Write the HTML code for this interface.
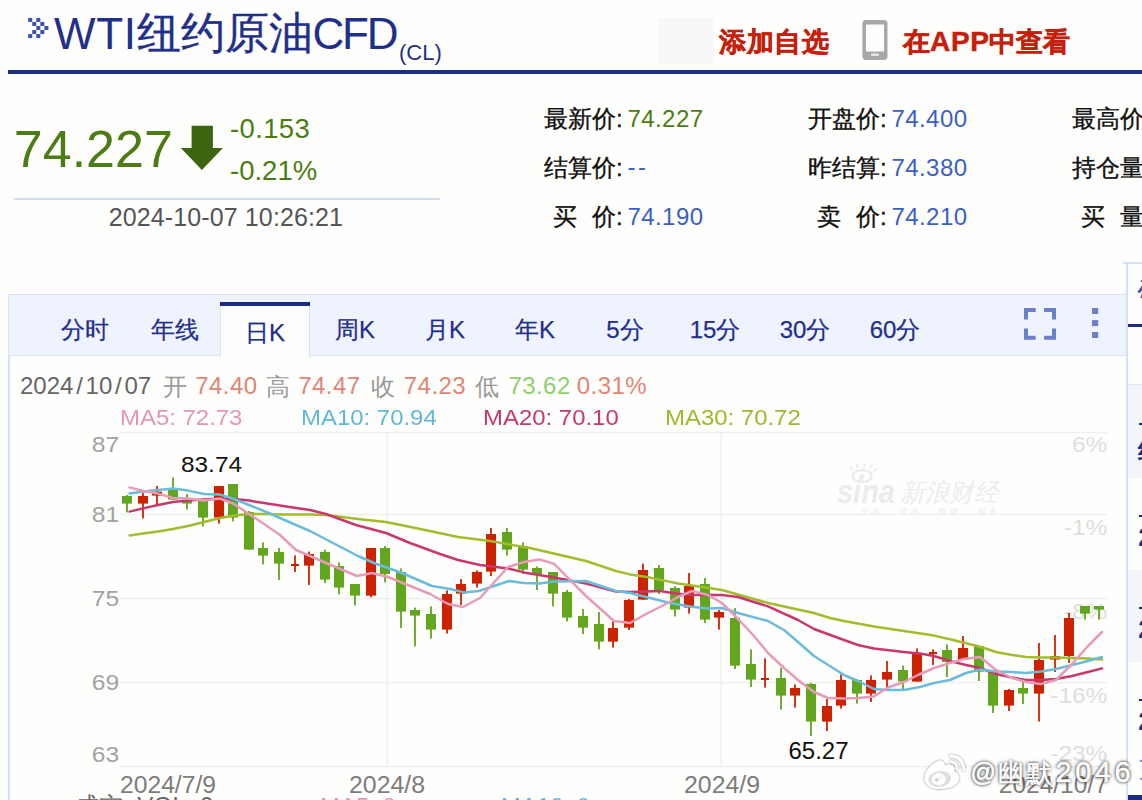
<!DOCTYPE html>
<html lang="zh">
<head>
<meta charset="utf-8">
<title>WTI纽约原油CFD</title>
<style>
html,body{margin:0;padding:0}
body{width:1142px;height:800px;overflow:hidden;position:relative;background:#fefefc;font-family:"Liberation Sans",sans-serif;color:#111}
.a{position:absolute;white-space:nowrap;line-height:1}
.navy{color:#1f2f8c}
.lab{font-size:24px;color:#111;-webkit-text-stroke:0.35px #111}
.num{font-size:24px;letter-spacing:0.45px;color:#3b60c4;margin-left:-0.6px;margin-top:-0.4px}
.grn{color:#4b7d14}
.tab{-webkit-text-stroke:0.25px #1f2f8c;font-size:24px;color:#1f2f8c;text-align:center;width:90px;top:318px}
.red{color:#c5200b;font-weight:bold;font-size:27.3px;-webkit-text-stroke:0.45px #c5200b}
svg{position:absolute;left:0;top:0}
svg text{font-family:"Liberation Sans",sans-serif}
</style>
</head>
<body>

<!-- header -->
<svg width="60" height="60" viewBox="0 0 60 60" style="left:0;top:0"><g fill="#3f54aa"><rect x="28.2" y="17.9" width="4.04" height="4.04"/><rect x="36.28" y="17.9" width="4.04" height="4.04"/><rect x="32.24" y="21.94" width="4.04" height="4.04"/><rect x="40.32" y="21.94" width="4.04" height="4.04"/><rect x="36.28" y="25.98" width="4.04" height="4.04"/><rect x="44.36" y="25.98" width="4.04" height="4.04"/><rect x="32.24" y="30.02" width="4.04" height="4.04"/><rect x="40.32" y="30.02" width="4.04" height="4.04"/><rect x="28.2" y="34.06" width="4.04" height="4.04"/><rect x="36.28" y="34.06" width="4.04" height="4.04"/></g></svg>
<div class="a navy" id="t1" style="left:54px;top:11.8px;font-size:44px;letter-spacing:0.7px">WTI</div>
<div class="a navy" id="t2" style="left:136.6px;top:11.3px;font-size:44px;-webkit-text-stroke:0.35px #1f2f8c">纽约原油</div>
<div class="a navy" id="t3" style="left:312.6px;top:11.8px;font-size:44px;letter-spacing:-2.3px">CFD</div>
<div class="a navy" id="cl" style="left:399px;top:41.9px;font-size:22px;">(CL)</div>
<div class="a" style="left:8px;top:69.5px;width:1134px;height:4.5px;background:#1c2b85"></div>

<div class="a" style="left:658px;top:18px;width:56px;height:46px;background:#f8f8f9"></div>
<div class="a red" id="add" style="left:719.2px;top:28.2px;letter-spacing:0.45px">添加自选</div>
<svg width="40" height="50" viewBox="855 15 40 50" style="left:855px;top:15px">
  <rect x="862.4" y="20" width="25.1" height="39.9" rx="3.6" fill="#a8a8a8"/>
  <rect x="866" y="24.4" width="18" height="27" rx="0.6" fill="#fefefc"/>
  <rect x="871" y="53.6" width="8" height="2.5" rx="1.2" fill="#e6e6e6"/>
</svg>
<div class="a red" id="app" style="left:902.6px;top:28.2px;">在<span style="letter-spacing:0.6px;font-size:28px;margin-left:0.5px">APP</span>中查看</div>

<!-- quote -->
<div class="a grn" id="big" style="left:13.8px;top:123px;font-size:52px;">74.227</div>
<svg width="60" height="60" viewBox="0 0 60 60" style="left:170px;top:115px">
  <path d="M21.6 10.8 H42.9 V33 H52.9 L31.9 55 L10.8 33 H21.6 Z" fill="#3c6512"/>
</svg>
<div class="a grn" id="chg1" style="left:230px;top:114.6px;font-size:27.5px;letter-spacing:0.35px">-0.153</div>
<div class="a grn" id="chg2" style="left:230px;top:156.7px;font-size:27.5px;">-0.21%</div>
<div class="a" style="left:14px;top:197.8px;width:426px;height:2px;background:#d6deec"></div>
<div class="a" id="ts" style="left:108.7px;top:205.2px;font-size:25px;color:#555;letter-spacing:0.12px">2024-10-07 10:26:21</div>

<!-- stats -->
<div class="a lab" id="s11" style="left:544px;top:107px">最新价:</div><div class="a num grn" id="n11" style="left:628px;top:107.5px">74.227</div>
<div class="a lab" id="s12" style="left:544px;top:156px">结算价:</div><div class="a num" id="n12" style="left:628px;top:155.2px;letter-spacing:2.6px">--</div>
<div class="a lab" id="s13" style="left:553px;top:205px">买<span style="display:inline-block;width:15px"></span>价:</div><div class="a num" id="n13" style="left:628px;top:205.5px">74.190</div>

<div class="a lab" id="s21" style="left:808px;top:107px">开盘价:</div><div class="a num" id="n21" style="left:892px;top:107.5px">74.400</div>
<div class="a lab" id="s22" style="left:808px;top:156px">昨结算:</div><div class="a num" id="n22" style="left:892px;top:156.5px">74.380</div>
<div class="a lab" id="s23" style="left:817px;top:205px">卖<span style="display:inline-block;width:15px"></span>价:</div><div class="a num" id="n23" style="left:892px;top:205.5px">74.210</div>

<div class="a lab" id="s31" style="left:1072px;top:107px">最高价:</div>
<div class="a lab" id="s32" style="left:1072px;top:156px">持仓量:</div>
<div class="a lab" id="s33" style="left:1081px;top:205px">买<span style="display:inline-block;width:15px"></span>量:</div>

<!-- chart panel -->
<div class="a" style="left:8.4px;top:294.3px;width:1118px;height:62px;background:#eff3fe;border:1.5px solid #dbe2f4;border-right:none;box-sizing:border-box"></div>
<div class="a" style="left:8.4px;top:356px;width:1.6px;height:444px;background:#d3e1f4"></div>
<div class="a" style="left:220.4px;top:302px;width:90px;height:56px;background:#fefefc;border-left:1.2px solid #dbe2f4;border-right:1.2px solid #dbe2f4;box-sizing:border-box"></div>
<div class="a" style="left:220.4px;top:302px;width:90px;height:4px;background:#1c2b85"></div>
<div class="a tab" style="left:40px">分时</div>
<div class="a tab" style="left:130px">年线</div>
<div class="a tab" style="left:220px;top:320.5px">日K</div>
<div class="a tab" style="left:310px">周K</div>
<div class="a tab" style="left:400px">月K</div>
<div class="a tab" style="left:490px">年K</div>
<div class="a tab" style="left:580px">5分</div>
<div class="a tab" style="left:670px">15分</div>
<div class="a tab" style="left:760px">30分</div>
<div class="a tab" style="left:850px">60分</div>
<svg width="90" height="40" viewBox="1020 304 90 40" style="left:1020px;top:304px">
  <g fill="none" stroke="#6c80c8" stroke-width="4">
    <path d="M1026 319.6 V310 H1035.7"/><path d="M1044.1 310 H1054 V319.6"/>
    <path d="M1026 328.4 V337.7 H1035.7"/><path d="M1044.1 337.7 H1054 V328.4"/>
  </g>
  <g fill="#6c80c8"><rect x="1092" y="308" width="6.2" height="6"/><rect x="1092" y="320.1" width="6.2" height="6"/><rect x="1092" y="332" width="6.2" height="6"/></g>
</svg>

<!-- OHLC line -->
<div class="a" id="o0" style="left:20px;top:374.3px;font-size:24px;color:#666;">2024<span style="padding:0 2.75px">/</span>10<span style="padding:0 2.75px">/</span>07</div>
<div class="a" id="o1" style="left:162.8px;top:374.6px;font-size:24px;color:#999;letter-spacing:0px">开</div>
<div class="a" id="o2" style="left:195.2px;top:374.3px;font-size:24px;color:#e08573;letter-spacing:0.45px">74.40</div>
<div class="a" id="o3" style="left:266.3px;top:374.6px;font-size:24px;color:#999;letter-spacing:0px">高</div>
<div class="a" id="o4" style="left:298.2px;top:374.3px;font-size:24px;color:#e08573;letter-spacing:0.45px">74.47</div>
<div class="a" id="o5" style="left:370.8px;top:374.6px;font-size:24px;color:#999;letter-spacing:0px">收</div>
<div class="a" id="o6" style="left:403.8px;top:374.3px;font-size:24px;color:#e08573;letter-spacing:0.45px">74.23</div>
<div class="a" id="o7" style="left:475.2px;top:374.6px;font-size:24px;color:#999;letter-spacing:0px">低</div>
<div class="a" id="o8" style="left:508.4px;top:374.3px;font-size:24px;color:#8fd06e;letter-spacing:0.45px">73.62</div>
<div class="a" id="o9" style="left:576.8px;top:374.3px;font-size:24px;color:#e08573;letter-spacing:0.45px">0.31%</div>
<div class="a" id="m5" style="transform:scaleX(1.088);transform-origin:0 0;margin-top:-1.2px;left:119.6px;top:408.5px;font-size:22px;color:#e596b2">MA5: 72.73</div>
<div class="a" id="m10" style="transform:scaleX(1.088);transform-origin:0 0;margin-top:-1.2px;left:301px;top:408.5px;font-size:22px;color:#63b7d6">MA10: 70.94</div>
<div class="a" id="m20" style="transform:scaleX(1.088);transform-origin:0 0;margin-top:-1.2px;left:482.9px;top:408.5px;font-size:22px;color:#c8386f">MA20: 70.10</div>
<div class="a" id="m30" style="transform:scaleX(1.088);transform-origin:0 0;margin-top:-1.2px;left:664.6px;top:408.5px;font-size:22px;color:#9fb82a">MA30: 70.72</div>

<!-- chart -->
<svg id="chart" width="1142" height="800" viewBox="0 0 1142 800">
<g font-size="22" fill="#dedede" text-anchor="end" transform="translate(1107.3,0) scale(1.11,1)">
  <text x="0" y="452.5">6%</text>
  <text x="0" y="535">-1%</text>
  <text x="0" y="619">-8%</text>
  <text x="0" y="703">-16%</text>
  <text x="0" y="761">-23%</text>
</g>
<rect x="120" y="431.8" width="987" height="1.4" fill="#efefef"/>
<rect x="120" y="513.8" width="987" height="1.4" fill="#efefef"/>
<rect x="120" y="597.9" width="987" height="1.4" fill="#efefef"/>
<rect x="120" y="681.9" width="987" height="1.4" fill="#efefef"/>
<rect x="120" y="765.9" width="987" height="1.4" fill="#efefef"/>
<rect x="386.6" y="432" width="1.4" height="335" fill="#efefef"/>
<rect x="720.3" y="432" width="1.4" height="335" fill="#efefef"/>
<rect x="126.1" y="495" width="1.8" height="17.4" fill="#62a51f"/>
<rect x="122" y="496" width="10" height="7.6" fill="#62a51f"/>
<rect x="142.1" y="493" width="1.8" height="25.4" fill="#cc2200"/>
<rect x="138" y="496" width="10" height="7.6" fill="#cc2200"/>
<rect x="156.1" y="486" width="1.8" height="19" fill="#cc2200"/>
<rect x="152" y="491.6" width="10" height="4" fill="#cc2200"/>
<rect x="172.1" y="477.4" width="1.8" height="22.6" fill="#62a51f"/>
<rect x="168" y="488" width="10" height="11.6" fill="#62a51f"/>
<rect x="186.1" y="494" width="1.8" height="15.4" fill="#62a51f"/>
<rect x="182" y="499.6" width="10" height="4" fill="#62a51f"/>
<rect x="202.1" y="500" width="1.8" height="26.4" fill="#62a51f"/>
<rect x="198" y="500" width="10" height="17.6" fill="#62a51f"/>
<rect x="218.1" y="486" width="1.8" height="37.6" fill="#cc2200"/>
<rect x="214" y="486" width="10" height="31.6" fill="#cc2200"/>
<rect x="232.1" y="484" width="1.8" height="37.4" fill="#62a51f"/>
<rect x="228" y="484" width="10" height="33.6" fill="#62a51f"/>
<rect x="248.1" y="511" width="1.8" height="38.6" fill="#62a51f"/>
<rect x="244" y="512" width="10" height="37.6" fill="#62a51f"/>
<rect x="262.1" y="542.4" width="1.8" height="22" fill="#62a51f"/>
<rect x="258" y="548" width="10" height="7.6" fill="#62a51f"/>
<rect x="278.1" y="548" width="1.8" height="32" fill="#62a51f"/>
<rect x="274" y="552" width="10" height="11.6" fill="#62a51f"/>
<rect x="294.1" y="555.4" width="1.8" height="16.6" fill="#cc2200"/>
<rect x="291" y="564" width="8" height="2" fill="#cc2200"/>
<rect x="308.1" y="551.6" width="1.8" height="33.4" fill="#cc2200"/>
<rect x="304" y="554" width="10" height="11.6" fill="#cc2200"/>
<rect x="324.1" y="549.6" width="1.8" height="33.4" fill="#62a51f"/>
<rect x="320" y="552" width="10" height="27.6" fill="#62a51f"/>
<rect x="338.1" y="562.4" width="1.8" height="32" fill="#62a51f"/>
<rect x="334" y="566" width="10" height="21.6" fill="#62a51f"/>
<rect x="354.1" y="584" width="1.8" height="21.4" fill="#62a51f"/>
<rect x="350" y="584" width="10" height="11.6" fill="#62a51f"/>
<rect x="370.1" y="548" width="1.8" height="49.4" fill="#cc2200"/>
<rect x="366" y="548" width="10" height="47.6" fill="#cc2200"/>
<rect x="384.1" y="546" width="1.8" height="36.4" fill="#62a51f"/>
<rect x="380" y="548" width="10" height="26" fill="#62a51f"/>
<rect x="400.1" y="568.4" width="1.8" height="59.6" fill="#62a51f"/>
<rect x="396" y="572" width="10" height="39.6" fill="#62a51f"/>
<rect x="414.1" y="607.6" width="1.8" height="38.8" fill="#62a51f"/>
<rect x="410" y="610" width="10" height="5.6" fill="#62a51f"/>
<rect x="430.1" y="606.4" width="1.8" height="32.2" fill="#62a51f"/>
<rect x="426" y="614" width="10" height="15.6" fill="#62a51f"/>
<rect x="446.1" y="590.4" width="1.8" height="43.2" fill="#cc2200"/>
<rect x="442" y="594" width="10" height="35.6" fill="#cc2200"/>
<rect x="460.1" y="579" width="1.8" height="26" fill="#cc2200"/>
<rect x="456" y="584" width="10" height="9.6" fill="#cc2200"/>
<rect x="476.1" y="570.4" width="1.8" height="17.2" fill="#cc2200"/>
<rect x="472" y="572" width="10" height="11.6" fill="#cc2200"/>
<rect x="490.1" y="528" width="1.8" height="48" fill="#cc2200"/>
<rect x="486" y="534" width="10" height="37.6" fill="#cc2200"/>
<rect x="506.1" y="528" width="1.8" height="27.6" fill="#62a51f"/>
<rect x="502" y="532" width="10" height="17.6" fill="#62a51f"/>
<rect x="522.1" y="542.4" width="1.8" height="31.6" fill="#62a51f"/>
<rect x="518" y="546" width="10" height="23.6" fill="#62a51f"/>
<rect x="536.1" y="566.4" width="1.8" height="23.6" fill="#62a51f"/>
<rect x="532" y="568" width="10" height="6.4" fill="#62a51f"/>
<rect x="552.1" y="572" width="1.8" height="34.4" fill="#62a51f"/>
<rect x="548" y="572" width="10" height="21.6" fill="#62a51f"/>
<rect x="566.1" y="590" width="1.8" height="31.4" fill="#62a51f"/>
<rect x="562" y="592" width="10" height="25.6" fill="#62a51f"/>
<rect x="582.1" y="609" width="1.8" height="25" fill="#62a51f"/>
<rect x="578" y="616" width="10" height="11.6" fill="#62a51f"/>
<rect x="598.1" y="612" width="1.8" height="37.4" fill="#62a51f"/>
<rect x="594" y="624" width="10" height="17.6" fill="#62a51f"/>
<rect x="612.1" y="621.4" width="1.8" height="26.2" fill="#cc2200"/>
<rect x="608" y="628" width="10" height="13.6" fill="#cc2200"/>
<rect x="628.1" y="599" width="1.8" height="31" fill="#cc2200"/>
<rect x="624" y="600" width="10" height="27.6" fill="#cc2200"/>
<rect x="642.1" y="563.6" width="1.8" height="36" fill="#cc2200"/>
<rect x="638" y="570" width="10" height="29.6" fill="#cc2200"/>
<rect x="658.1" y="565" width="1.8" height="29" fill="#62a51f"/>
<rect x="654" y="568" width="10" height="22" fill="#62a51f"/>
<rect x="674.1" y="586.4" width="1.8" height="30" fill="#62a51f"/>
<rect x="670" y="588" width="10" height="21.6" fill="#62a51f"/>
<rect x="688.1" y="573" width="1.8" height="40.6" fill="#cc2200"/>
<rect x="684" y="586" width="10" height="21.6" fill="#cc2200"/>
<rect x="704.1" y="578" width="1.8" height="45" fill="#62a51f"/>
<rect x="700" y="584" width="10" height="35.6" fill="#62a51f"/>
<rect x="718.1" y="610" width="1.8" height="19.6" fill="#cc2200"/>
<rect x="714" y="612" width="10" height="5.6" fill="#cc2200"/>
<rect x="734.1" y="608" width="1.8" height="61" fill="#62a51f"/>
<rect x="730" y="618" width="10" height="47.6" fill="#62a51f"/>
<rect x="750.1" y="649.4" width="1.8" height="37.6" fill="#62a51f"/>
<rect x="746" y="664" width="10" height="15.6" fill="#62a51f"/>
<rect x="764.1" y="658.4" width="1.8" height="29.2" fill="#cc2200"/>
<rect x="761" y="678" width="8" height="2" fill="#cc2200"/>
<rect x="780.1" y="668" width="1.8" height="41.6" fill="#62a51f"/>
<rect x="776" y="678" width="10" height="17.6" fill="#62a51f"/>
<rect x="794.1" y="684.4" width="1.8" height="23.2" fill="#cc2200"/>
<rect x="790" y="688" width="10" height="7.6" fill="#cc2200"/>
<rect x="810.1" y="683" width="1.8" height="53" fill="#62a51f"/>
<rect x="806" y="684" width="10" height="37.6" fill="#62a51f"/>
<rect x="826.1" y="699" width="1.8" height="32" fill="#cc2200"/>
<rect x="822" y="706" width="10" height="15.6" fill="#cc2200"/>
<rect x="840.1" y="674.4" width="1.8" height="34.2" fill="#cc2200"/>
<rect x="836" y="680" width="10" height="25.6" fill="#cc2200"/>
<rect x="856.1" y="679" width="1.8" height="24.6" fill="#62a51f"/>
<rect x="852" y="680" width="10" height="13.6" fill="#62a51f"/>
<rect x="870.1" y="675.4" width="1.8" height="26.6" fill="#cc2200"/>
<rect x="866" y="680" width="10" height="13.6" fill="#cc2200"/>
<rect x="886.1" y="661" width="1.8" height="26" fill="#cc2200"/>
<rect x="882" y="672" width="10" height="7.6" fill="#cc2200"/>
<rect x="902.1" y="665.6" width="1.8" height="23.4" fill="#62a51f"/>
<rect x="898" y="670" width="10" height="11.6" fill="#62a51f"/>
<rect x="916.1" y="648.4" width="1.8" height="33.2" fill="#cc2200"/>
<rect x="912" y="654" width="10" height="27.6" fill="#cc2200"/>
<rect x="932.1" y="649.4" width="1.8" height="15.6" fill="#cc2200"/>
<rect x="929" y="652" width="8" height="2" fill="#cc2200"/>
<rect x="946.1" y="644.4" width="1.8" height="32.6" fill="#62a51f"/>
<rect x="942" y="650" width="10" height="12" fill="#62a51f"/>
<rect x="962.1" y="636" width="1.8" height="24" fill="#cc2200"/>
<rect x="958" y="648" width="10" height="12" fill="#cc2200"/>
<rect x="978.1" y="646" width="1.8" height="35" fill="#62a51f"/>
<rect x="974" y="646" width="10" height="25.6" fill="#62a51f"/>
<rect x="992.1" y="672" width="1.8" height="41" fill="#62a51f"/>
<rect x="988" y="672" width="10" height="33.6" fill="#62a51f"/>
<rect x="1008.1" y="689" width="1.8" height="22" fill="#cc2200"/>
<rect x="1004" y="690" width="10" height="15.6" fill="#cc2200"/>
<rect x="1022.1" y="682" width="1.8" height="22" fill="#62a51f"/>
<rect x="1018" y="688" width="10" height="5.6" fill="#62a51f"/>
<rect x="1038.1" y="643" width="1.8" height="78.6" fill="#cc2200"/>
<rect x="1034" y="660" width="10" height="33.6" fill="#cc2200"/>
<rect x="1054.1" y="635" width="1.8" height="37" fill="#cc2200"/>
<rect x="1050" y="656" width="10" height="3.6" fill="#cc2200"/>
<rect x="1068.1" y="613" width="1.8" height="50" fill="#cc2200"/>
<rect x="1064" y="618" width="10" height="38" fill="#cc2200"/>
<rect x="1084.1" y="606" width="1.8" height="13.6" fill="#62a51f"/>
<rect x="1080" y="606" width="10" height="7.6" fill="#62a51f"/>
<rect x="1098.1" y="606" width="1.8" height="13.6" fill="#62a51f"/>
<rect x="1094" y="606" width="10" height="3.6" fill="#62a51f"/>
<polyline fill="none" stroke="#a3bb2d" stroke-width="2.5" stroke-linejoin="round" stroke-linecap="round" points="129.6,535.4 143,533.6 158,531.4 173,529 188,526 204,522 220,518 234,515.6 249,514 264,514 280,514.4 296,514.6 310,514.4 326,515 358,519 386,522 430,531 458,537 490,541 530,548 586,561 616,571 630,574.4 650,577.6 678,583.5 692,585.6 722,590 768,603 814,613 830,618 844,621 874,626.4 904,631 934,635.6 950,639.2 980,646.7 996,652 1012,655 1026,657 1041,657.6 1056,657.6 1072,658 1088,658.6 1102,659.6"/>
<polyline fill="none" stroke="#c8386f" stroke-width="2.5" stroke-linejoin="round" stroke-linecap="round" points="129.6,511.6 143,508.4 158,505 173,502 188,500.6 204,499.6 220,498.6 234,499 249,500.6 264,503 280,505.4 296,508 310,510 326,514 356,525 386,533 410,543 440,554 458,560 480,565 508,568.4 524,572.4 554,577.6 586,583.6 616,591.6 630,592 646,591.6 660,591 675,593.5 692,595 722,595 738,597 768,606.4 798,620 814,629 844,640 858,645 874,648.5 904,652 920,653.6 934,656 950,661 966,665 980,668 996,674 1012,677.6 1026,680 1041,680 1056,679 1072,676 1088,672 1102,668.4"/>
<polyline fill="none" stroke="#6bbcda" stroke-width="2.5" stroke-linejoin="round" stroke-linecap="round" points="129.6,493.6 143,491.6 158,490 173,488.4 188,490.6 204,494 220,494.6 234,499 249,505 264,511 280,518 296,525 310,531 358,556 374,563 402,573 432,586 450,589 464,592.4 479,591 509,581 524,583 539,583.4 554,581.4 586,581 616,591 630,593 646,597 670,603 690,606.4 708,608.6 722,608 738,613 768,621 784,630 798,642 814,656 844,675 858,681 874,689 888,690 904,690 920,687 934,683 950,680 966,673 980,669.6 996,671.6 1012,672 1026,673 1041,671.6 1056,669 1072,665 1088,661 1102,657"/>
<polyline fill="none" stroke="#e89bb8" stroke-width="2.5" stroke-linejoin="round" stroke-linecap="round" points="129.6,487.4 143,491 158,493.6 173,498 188,498.6 204,500.4 220,498.6 234,504 249,514 264,524 280,535 296,550 310,556 326,563 357,576 372,573 388,577 430,594 448,604 463,607 480,598 508,567 524,562 539,559.4 554,563.6 570,580 586,596 614,621 630,623 646,614 662,606 678,597 692,591 708,595 722,603 738,619 754,636 768,653 784,668 798,680 814,692 828,698 844,698.6 858,698 874,696.4 888,687.5 904,682 918,675 934,668 950,663 964,659 980,657 996,670 1012,678 1026,682 1041,684 1056,680 1072,664 1088,646 1102,632"/>
<g font-size="22" fill="#a2a2a2" text-anchor="end" transform="translate(119.2,0) scale(1.12,1)">
  <text x="0" y="452.4">87</text>
  <text x="0" y="522.4">81</text>
  <text x="0" y="606.4">75</text>
  <text x="0" y="690.4">69</text>
  <text x="0" y="762">63</text>
</g>
<g font-size="23" fill="#7c7c7c">
  <text x="120" y="792.5" textLength="96" lengthAdjust="spacingAndGlyphs">2024/7/9</text>
  <text x="349" y="792.5" textLength="76" lengthAdjust="spacingAndGlyphs">2024/8</text>
  <text x="684" y="792.5" textLength="76" lengthAdjust="spacingAndGlyphs">2024/9</text>
  <text x="998.8" y="792.5" textLength="109" lengthAdjust="spacingAndGlyphs">2024/10/7</text>
</g>
<g fill="#111">
  <text x="181" y="472" font-size="22.5" textLength="61" lengthAdjust="spacingAndGlyphs">83.74</text>
  <text x="788.5" y="759" font-size="23.6" textLength="60" lengthAdjust="spacingAndGlyphs">65.27</text>
</g>
<!-- sina watermark -->
<g fill="#ececec" font-style="italic">
  <text x="837" y="503" font-size="34" font-weight="bold" textLength="58" lengthAdjust="spacingAndGlyphs">sina</text>
  <ellipse cx="862" cy="476" rx="9.5" ry="6" fill="none" stroke="#ececec" stroke-width="2.4"/><circle cx="862" cy="476.5" r="2.6"/>
  <path d="M853 470 l-3 -3.5 M858 468 l-1.5 -4 M864 467.5 l0.5 -4.2 M869.5 468.6 l2.5 -3.8 M873.5 471.5 l4 -2.8" stroke="#ececec" stroke-width="2" fill="none"/>
  <text x="900" y="501" font-size="25" textLength="98" lengthAdjust="spacingAndGlyphs">新浪财经</text>
  <text x="860" y="514" font-size="8" textLength="136">交易 · 资讯 · 数据 · 服务</text>
</g>
</svg>

<!-- bottom clipped row -->
<div class="a" style="left:74.5px;top:794px;font-size:24px;color:#666">成交</div>
<div class="a" style="left:137.2px;top:794.2px;font-size:24px;color:#666;letter-spacing:0.3px">VOL: 0</div>
<div class="a" style="left:319.6px;top:794.6px;font-size:22px;color:#e596b2;transform:scaleX(1.088);transform-origin:0 0">MA5: 0</div>
<div class="a" style="left:501px;top:794.6px;font-size:22px;color:#63b7d6;transform:scaleX(1.088);transform-origin:0 0">MA10: 0</div>
<!-- right panel -->
<div class="a" style="left:1122.5px;top:262.3px;width:20px;height:1.4px;background:#d5e3f3"></div>
<div class="a" style="left:1126.2px;top:262.3px;width:1.9px;height:538px;background:#d2e1f3"></div>
<div class="a" style="left:1128px;top:324px;width:14px;height:3.4px;background:#1c2b85"></div>
<div class="a" style="left:1128.1px;top:384px;width:14px;height:93.5px;background:#f4f5fb;border-top:1.3px solid #dfe6f3;box-sizing:border-box"></div>
<div class="a" style="left:1128.1px;top:569.5px;width:14px;height:92px;background:#f4f5fb"></div>
<div class="a" style="left:1128.1px;top:795px;width:14px;height:5px;background:#1c2b85"></div>
<div class="a navy" style="left:1137px;top:274px;font-size:25px;font-weight:bold;font-style:italic;color:#3a4aa8">机</div>
<div class="a" style="left:1138.7px;top:422.5px;width:4px;height:2.5px;background:#1c2b85"></div>
<div class="a navy" style="left:1138.4px;top:438.5px;font-size:24px;font-weight:bold;color:#1c2b85">纽</div>
<div class="a" style="left:1138.7px;top:514.5px;width:4px;height:2.5px;background:#1c2b85"></div>
<div class="a navy" style="left:1138.2px;top:523.9px;font-size:26px;font-weight:bold;color:#1c2b85">2</div>
<div class="a" style="left:1138.7px;top:606.5px;width:4px;height:2.5px;background:#1c2b85"></div>
<div class="a navy" style="left:1138.2px;top:615.9px;font-size:26px;font-weight:bold;color:#1c2b85">2</div>
<div class="a" style="left:1138.7px;top:698.5px;width:4px;height:2.5px;background:#1c2b85"></div>
<div class="a navy" style="left:1138.2px;top:707.9px;font-size:26px;font-weight:bold;color:#1c2b85">2</div>
<div class="a" style="left:1139px;top:759px;font-size:22px;color:#8094dc;font-weight:bold">更</div>

<!-- weibo watermark -->
<svg width="60" height="50" viewBox="918 748 60 50" style="left:918px;top:748.7px">
  <defs><filter id="ws" x="-20%" y="-20%" width="140%" height="140%"><feDropShadow dx="0" dy="0" stdDeviation="1.2" flood-color="#000" flood-opacity="0.6"/></filter></defs>
  <g filter="url(#ws)" fill="#fff">
    <path d="M924.5 776.5 C925 770 931 762.5 938.6 759.8 C941.5 759 944 760.5 944.8 764.6 C947 763.5 952 763.3 953.8 765.6 C955 767.2 954.6 769 953.8 770.2 C956.5 771 959.2 773.5 959.2 777.5 C959.2 783.5 950 787.8 940 788 C931 788.2 924 783.5 924.5 776.5 Z"/>
    <path d="M951.2 760.6 Q956.5 761 956.8 767.8" fill="none" stroke="#fff" stroke-width="2.4" stroke-linecap="round"/>
    <path d="M950.6 755.2 Q963 755.5 963.8 768.6" fill="none" stroke="#fff" stroke-width="2.8" stroke-linecap="round"/>
  </g>
  <ellipse cx="939.6" cy="778" rx="11.4" ry="7.9" fill="#dedede" transform="rotate(-6 939.6 778)"/>
  <ellipse cx="938.8" cy="778.2" rx="7" ry="6.1" fill="#fff"/>
  <circle cx="936.7" cy="778.8" r="1.9" fill="#cfcfcf"/><circle cx="940.3" cy="776.9" r="0.8" fill="#d5d5d5"/>
</svg>
<div class="a" id="wb1" style="left:970.6px;top:760.4px;font-size:25px;color:#fff;-webkit-text-stroke:0.6px #fff;text-shadow:0 0 3px rgba(0,0,0,.7),0 0 3px rgba(0,0,0,.6),0 0 5px rgba(0,0,0,.3)">@</div>
<div class="a" id="wb2" style="left:998px;top:760.1px;font-size:26px;letter-spacing:2.2px;color:#fff;-webkit-text-stroke:0.6px #fff;text-shadow:0 0 3px rgba(0,0,0,.7),0 0 3px rgba(0,0,0,.6),0 0 5px rgba(0,0,0,.3)">幽默</div>
<div class="a" id="wb3" style="left:1055.6px;top:758.1px;font-size:29px;letter-spacing:3.5px;color:#fff;-webkit-text-stroke:0.6px #fff;text-shadow:0 0 3px rgba(0,0,0,.7),0 0 3px rgba(0,0,0,.6),0 0 5px rgba(0,0,0,.3)">2046</div>
</body>
</html>
